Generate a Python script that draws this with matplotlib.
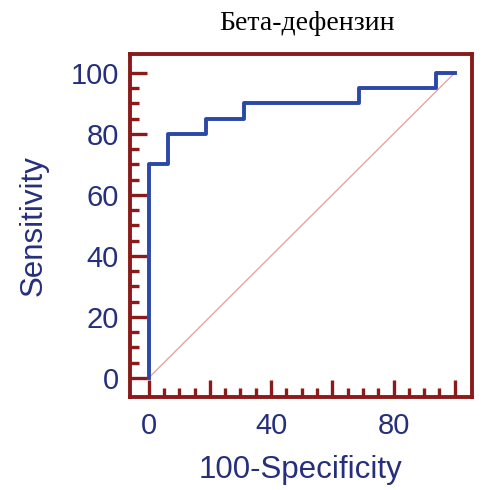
import matplotlib
matplotlib.use('Agg')
import matplotlib.pyplot as plt
from matplotlib.ticker import FixedLocator

# ROC curve points (100-Specificity, Sensitivity)
fpr = [0, 0, 6.25, 6.25, 18.75, 18.75, 31.25, 31.25, 68.75, 68.75, 93.75, 93.75, 100]
tpr = [0, 70, 70, 80, 80, 85, 85, 90, 90, 95, 95, 100, 100]

title = 'Бета-дефензин'
xlab = '100-Specificity'
ylab = 'Sensitivity'
xmajor = [0, 20, 40, 60, 80, 100]
xlabels = ['0', '', '40', '', '80', '']
yticks = [0, 20, 40, 60, 80, 100]

frame = '#8B1A1A'
navy = '#262F7C'
blue = '#2B48A8'

plt.rcParams['font.family'] = ['Liberation Sans', 'DejaVu Sans']

fig = plt.figure(figsize=(4.83, 4.90), dpi=100)
ax = fig.add_axes([0.269, 0.190, 0.708, 0.700])

ax.plot([0, 100], [0, 100], color='#E8A4A4', lw=1.0, zorder=2)
ax.plot(fpr, tpr, color=blue, lw=2.8, zorder=3)

ax.set_xlim(-6.1, 105.6)
ax.set_ylim(-6.2, 106.2)

minor = [v for v in range(5, 100, 5) if v % 20]
ax.xaxis.set_major_locator(FixedLocator(xmajor))
ax.set_xticklabels(xlabels)
ax.xaxis.set_minor_locator(FixedLocator(minor))
ax.yaxis.set_major_locator(FixedLocator(yticks))
ax.yaxis.set_minor_locator(FixedLocator(minor))

ax.tick_params(which='both', direction='in', color=frame, width=2.4,
               top=False, right=False)
ax.tick_params(which='major', length=12.5, labelsize=21, labelcolor=navy, pad=8)
ax.tick_params(axis='x', which='major', pad=11)
ax.tick_params(which='minor', length=6.5)

for s in ax.spines.values():
    s.set_color(frame)
    s.set_linewidth(2.8)

ax.set_xlabel(xlab, fontsize=22.5, color=navy, labelpad=11)
ax.set_ylabel(ylab, fontsize=22.5, color=navy, labelpad=16)
fig.text(0.635, 0.953, title, fontsize=20, family='Liberation Serif',
         ha='center', va='center', color='black')

fig.savefig('out.png', dpi=100)
